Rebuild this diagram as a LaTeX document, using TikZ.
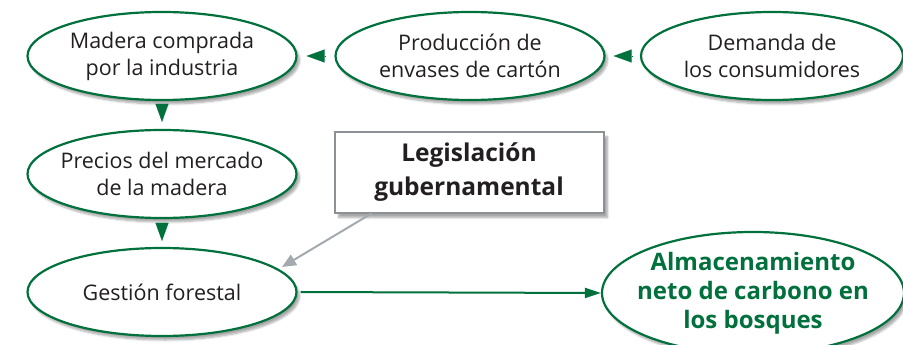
\documentclass[tikz,border=0pt]{standalone}
\usepackage{fontspec}
\setmainfont{Open Sans}
\usetikzlibrary{shapes.geometric,arrows.meta,shadows.blur}
\definecolor{dgreen}{HTML}{00703C}
\definecolor{txt}{HTML}{231F20}
\definecolor{garrow}{HTML}{A3AAB0}
\definecolor{gbox}{HTML}{8C9196}
\tikzset{
  oval/.style={ellipse, draw=dgreen, line width=2.2pt, fill=white, inner sep=-20pt,
    minimum width=269pt, minimum height=88pt, align=center, text=txt,
    font=\fontsize{21.5}{27}\selectfont,
    blur shadow={shadow xshift=3pt, shadow yshift=-4pt, shadow blur steps=6, shadow opacity=35}},
  legbox/.style={rectangle, draw=gbox, line width=2pt, fill=white, minimum width=269pt,
    minimum height=81pt, align=center, text=txt, font=\fontsize{24.5}{34}\selectfont\bfseries,
    blur shadow={shadow xshift=4pt, shadow yshift=-5pt, shadow blur steps=6, shadow opacity=35}},
  tipg/.style={draw=dgreen, line width=0.1pt, -{Triangle[length=18pt,width=13pt,fill=dgreen]}},
}
\begin{document}
\begin{tikzpicture}[x=1pt,y=-1pt]
\useasboundingbox (0,0) rectangle (903,345);
\node[oval] (mad) at (162,56) {Madera comprada\\por la industria};
\node[oval] (prod) at (470,56) {Producción de\\envases de cartón};
\node[oval, minimum width=262pt] (dem) at (772,56) {Demanda de\\los consumidores};
\node[oval] (prec) at (162,174) {Precios del mercado\\de la madera};
\node[oval] (gest) at (162,292) {Gestión forestal};
\node[legbox] (leg) at (469,172) {Legislación\\gubernamental};
\node[oval, minimum width=302pt, minimum height=122pt, text=dgreen,
  font=\fontsize{24}{29}\selectfont\bfseries] (alm) at (753,293) {Almacenamiento\\neto de carbono en\\los bosques};
% detached triangle arrowheads
\draw[tipg, shorten <=9pt, shorten >=9pt] (prod.west) -- (mad.east);
\draw[tipg, shorten <=8pt, shorten >=8pt] (dem.west) -- (prod.east);
\draw[tipg, shorten <=3pt, shorten >=7pt] (mad.south) -- (prec.north);
\draw[tipg, shorten <=5pt, shorten >=6pt] (prec.south) -- (gest.north);
% connectors
\draw[garrow, line width=2pt, -{Triangle[length=14pt,width=12pt]}] (leg.south west) ++(38pt,0) coordinate (ls) -- (282,267) coordinate (le);
\draw[dgreen, line width=2pt, -{Triangle[length=16pt,width=10pt]}, shorten <=3pt] (gest.east) -- (alm.west);
\end{tikzpicture}
\end{document}
